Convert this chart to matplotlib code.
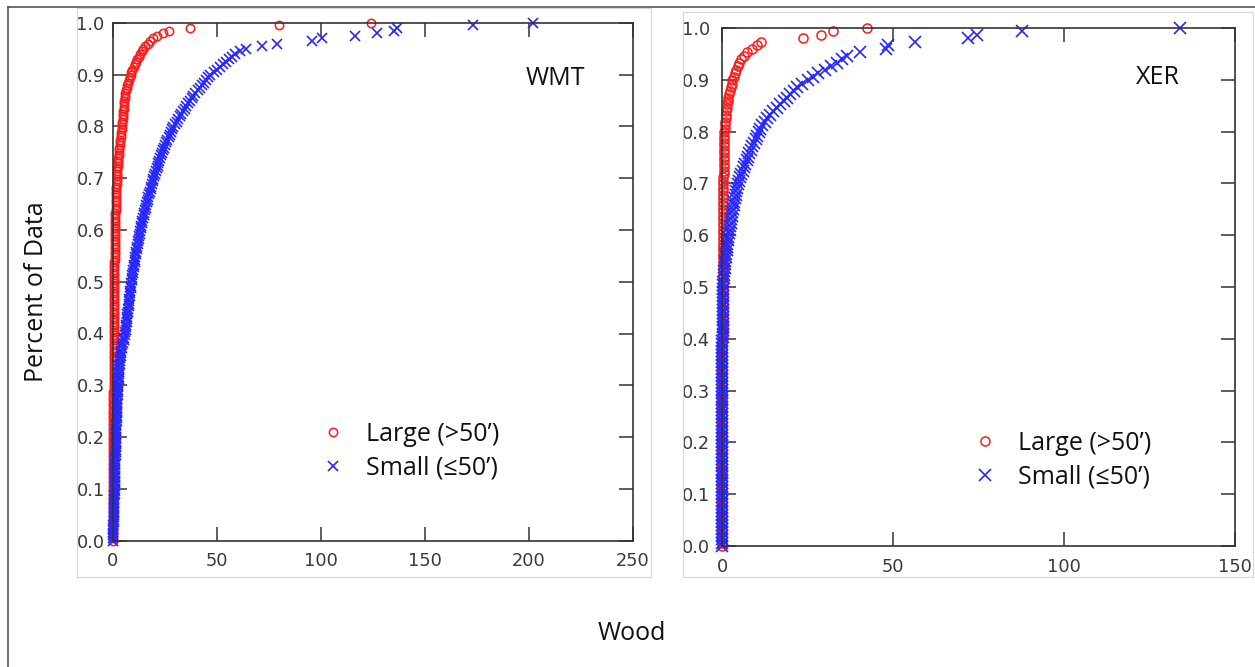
import numpy as np
import matplotlib
matplotlib.use("Agg")
import matplotlib.pyplot as plt
from matplotlib.lines import Line2D

# ---------------- data (sorted wood values, ECDF) ----------------
wmt_large = [
    0.0, 0.0, 0.0, 0.1, 0.1, 0.1, 0.1, 0.1, 0.1, 0.1,
    0.1, 0.1, 0.1, 0.1, 0.1, 0.1, 0.2, 0.2, 0.2, 0.2,
    0.2, 0.2, 0.2, 0.2, 0.2, 0.2, 0.2, 0.2, 0.2, 0.2,
    0.2, 0.2, 0.2, 0.2, 0.2, 0.2, 0.3, 0.3, 0.3, 0.3,
    0.3, 0.3, 0.3, 0.3, 0.3, 0.3, 0.3, 0.3, 0.3, 0.3,
    0.3, 0.3, 0.3, 0.3, 0.3, 0.3, 0.3, 0.3, 0.4, 0.4,
    0.4, 0.4, 0.4, 0.4, 0.4, 0.4, 0.4, 0.5, 0.5, 0.5,
    0.5, 0.5, 0.5, 0.5, 0.5, 0.5, 0.5, 0.5, 0.5, 0.5,
    0.5, 0.5, 0.5, 0.5, 0.6, 0.6, 0.6, 0.6, 0.6, 0.6,
    0.6, 0.6, 0.6, 0.6, 0.6, 0.6, 0.7, 0.7, 0.7, 0.7,
    0.7, 0.7, 0.7, 0.8, 0.8, 0.8, 0.8, 0.8, 0.9, 0.9,
    0.9, 0.9, 0.9, 1.0, 1.0, 1.0, 1.0, 1.1, 1.1, 1.1,
    1.1, 1.2, 1.2, 1.2, 1.3, 1.3, 1.3, 1.4, 1.4, 1.5,
    1.5, 1.6, 1.6, 1.7, 1.7, 1.8, 1.8, 1.9, 1.9, 2.0,
    2.0, 2.1, 2.2, 2.3, 2.4, 2.5, 2.6, 2.7, 2.8, 3.0,
    3.1, 3.2, 3.3, 3.5, 3.6, 3.8, 3.9, 4.1, 4.3, 4.5,
    4.6, 4.7, 4.8, 4.9, 5.0, 5.1, 5.2, 5.3, 5.4, 5.5,
    5.7, 5.9, 6.1, 6.4, 6.7, 7.0, 7.3, 7.7, 8.1, 8.6,
    9.0, 9.5, 10.1, 10.7, 11.3, 11.9, 12.5, 13.2, 13.9, 14.6,
    15.7, 16.8, 18.0, 19.5, 21.5, 24.0, 27.0, 37.0, 80.0, 124.0,
]
wmt_small = [
    0.0, 0.1, 0.1, 0.2, 0.2, 0.3, 0.3, 0.4, 0.4, 0.5,
    0.5, 0.6, 0.6, 0.7, 0.7, 0.7, 0.8, 0.8, 0.9, 0.9,
    0.9, 1.0, 1.0, 1.0, 1.1, 1.1, 1.1, 1.2, 1.2, 1.2,
    1.3, 1.3, 1.3, 1.4, 1.4, 1.4, 1.5, 1.5, 1.6, 1.6,
    1.7, 1.7, 1.7, 1.8, 1.8, 1.8, 1.9, 1.9, 2.0, 2.0,
    2.1, 2.1, 2.2, 2.2, 2.3, 2.3, 2.4, 2.4, 2.5, 2.5,
    2.6, 2.7, 2.8, 2.9, 3.0, 3.0, 3.1, 3.2, 3.3, 3.4,
    3.6, 3.8, 4.0, 4.2, 4.4, 4.7, 5.0, 5.3, 5.6, 5.9,
    6.0, 6.2, 6.4, 6.5, 6.7, 6.8, 7.0, 7.1, 7.3, 7.4,
    7.6, 7.7, 7.8, 8.0, 8.1, 8.3, 8.4, 8.6, 8.7, 8.9,
    9.1, 9.3, 9.5, 9.7, 9.9, 10.1, 10.3, 10.5, 10.7, 10.9,
    11.1, 11.3, 11.6, 11.8, 12.0, 12.2, 12.5, 12.7, 12.9, 13.1,
    13.4, 13.7, 14.0, 14.3, 14.6, 14.9, 15.2, 15.5, 15.8, 16.1,
    16.4, 16.8, 17.1, 17.5, 17.8, 18.2, 18.5, 18.9, 19.2, 19.6,
    20.0, 20.4, 20.8, 21.2, 21.6, 22.0, 22.4, 22.8, 23.2, 23.6,
    24.1, 24.7, 25.2, 25.8, 26.3, 26.9, 27.5, 28.0, 28.6, 29.2,
    29.9, 30.7, 31.4, 32.2, 33.0, 33.8, 34.6, 35.4, 36.2, 37.0,
    37.9, 38.8, 39.8, 40.8, 41.8, 42.8, 43.8, 44.8, 45.9, 47.0,
    48.5, 50.0, 51.5, 53.0, 54.5, 56.0, 57.5, 59.0, 61.0, 64.0,
    72.0, 79.0, 96.0, 100.5, 116.5, 127.0, 135.0, 136.6, 173.0, 202.0,
]
xer_large = [
    0.0, 0.0, 0.0, 0.0, 0.0, 0.0, 0.0, 0.0, 0.0, 0.0,
    0.0, 0.0, 0.0, 0.0, 0.0, 0.0, 0.0, 0.0, 0.0, 0.0,
    0.0, 0.0, 0.0, 0.0, 0.0, 0.1, 0.1, 0.1, 0.1, 0.1,
    0.1, 0.1, 0.1, 0.1, 0.1, 0.1, 0.1, 0.1, 0.1, 0.1,
    0.1, 0.1, 0.1, 0.1, 0.1, 0.1, 0.1, 0.1, 0.1, 0.1,
    0.1, 0.1, 0.1, 0.1, 0.1, 0.1, 0.1, 0.1, 0.1, 0.1,
    0.2, 0.2, 0.2, 0.2, 0.2, 0.2, 0.2, 0.2, 0.2, 0.2,
    0.2, 0.2, 0.2, 0.2, 0.2, 0.2, 0.2, 0.2, 0.2, 0.2,
    0.2, 0.2, 0.2, 0.2, 0.2, 0.2, 0.2, 0.2, 0.2, 0.2,
    0.2, 0.2, 0.2, 0.3, 0.3, 0.3, 0.3, 0.3, 0.3, 0.4,
    0.4, 0.4, 0.4, 0.4, 0.4, 0.4, 0.4, 0.5, 0.5, 0.5,
    0.5, 0.5, 0.5, 0.6, 0.6, 0.6, 0.6, 0.7, 0.7, 0.7,
    0.8, 0.9, 1.0, 1.1, 1.2, 1.3, 1.4, 1.5, 1.7, 1.9,
    2.1, 2.3, 2.5, 2.8, 3.0, 3.4, 3.8, 4.2, 4.6, 5.0,
    5.6, 6.5, 7.4, 8.8, 10.2, 11.5, 23.8, 29.0, 32.5, 42.3,
]
xer_small = [
    0.0, 0.0, 0.0, 0.0, 0.0, 0.0, 0.0, 0.0, 0.0, 0.0,
    0.0, 0.0, 0.0, 0.0, 0.0, 0.0, 0.0, 0.0, 0.0, 0.0,
    0.0, 0.0, 0.0, 0.0, 0.0, 0.0, 0.0, 0.0, 0.0, 0.0,
    0.1, 0.1, 0.1, 0.1, 0.1, 0.1, 0.1, 0.1, 0.1, 0.1,
    0.1, 0.1, 0.1, 0.1, 0.1, 0.1, 0.1, 0.1, 0.1, 0.1,
    0.1, 0.1, 0.1, 0.1, 0.1, 0.1, 0.1, 0.1, 0.1, 0.1,
    0.2, 0.2, 0.2, 0.2, 0.2, 0.2, 0.2, 0.2, 0.2, 0.2,
    0.2, 0.2, 0.2, 0.2, 0.2, 0.3, 0.4, 0.5, 0.6, 0.7,
    0.8, 0.9, 1.0, 1.2, 1.3, 1.4, 1.5, 1.6, 1.7, 1.8,
    2.0, 2.2, 2.4, 2.5, 2.7, 2.8, 3.0, 3.2, 3.4, 3.6,
    3.8, 4.0, 4.2, 4.4, 4.6, 5.0, 5.3, 5.7, 6.0, 6.4,
    6.8, 7.2, 7.6, 8.0, 8.4, 8.9, 9.3, 9.8, 10.2, 10.7,
    11.2, 11.8, 12.5, 13.2, 14.0, 15.0, 16.0, 17.0, 18.0, 19.0,
    20.0, 21.0, 22.0, 23.5, 25.0, 26.5, 28.0, 30.0, 32.0, 33.6,
    35.0, 36.5, 40.4, 48.0, 48.5, 56.4, 72.0, 74.5, 87.6, 134.0,
]

panels = ["WMT", "XER"]
x_limits = [250, 150]
x_ticks = [[0, 50, 100, 150, 200, 250], [0, 50, 100, 150]]
y_ticks = [0.0, 0.1, 0.2, 0.3, 0.4, 0.5, 0.6, 0.7, 0.8, 0.9, 1.0]
legend_labels = ["Large (>50\u2019)", "Small (\u226450\u2019)"]
x_label = "Wood"
y_label = "Percent of Data"

# ---------------- figure ----------------
W, H = 1255, 667
fig = plt.figure(figsize=(W / 100, H / 100), dpi=100)
fig.patch.set_facecolor("white")

TXT = ["Open Sans", "DejaVu Sans"]

def fx(px):
    return px / W

def fy(py):
    return 1 - py / H

# outer border (top and left) and light panel frames
fig.add_artist(Line2D([fx(8), fx(8)], [fy(7), fy(667)], color="#555555", lw=1.2))
fig.add_artist(Line2D([fx(8), fx(1255)], [fy(7), fy(7)], color="#555555", lw=1.2))
for (x0, y0, x1, y1) in [(77, 8, 651, 577), (683, 12, 1253, 577)]:
    fig.add_artist(Line2D([fx(x0), fx(x1), fx(x1), fx(x0), fx(x0)],
                          [fy(y0), fy(y0), fy(y1), fy(y1), fy(y0)],
                          color="#d8d8d8", lw=0.8))

axes_px = [(112.7, 22.7, 632.7, 540.7), (722, 28, 1235, 546)]
data = [(wmt_large, wmt_small), (xer_large, xer_small)]
label_pos = [(0.851, 0.893), (0.85, 0.905)]
leg_pos = [(0.40, 0.173), (0.489, 0.166)]
ylab_pad = [5.8, 8.5]
xlab_pad = [8.0, 8.6]
msizes = [(6.0, 7.0), (6.5, 8.5)]

for k in range(2):
    x0, y0, x1, y1 = axes_px[k]
    ax = fig.add_axes([fx(x0), fy(y1), (x1 - x0) / W, (y1 - y0) / H])
    large, small = data[k]
    yl = np.arange(len(large)) / (len(large) - 1)
    ys = np.arange(len(small)) / (len(small) - 1)
    ms_l, ms_s = msizes[k]
    ax.plot(large, yl, linestyle="none", marker="o", ms=ms_l, mfc="none",
            mec="#ff1a1a", mew=1.1, clip_on=False, label=legend_labels[0])
    ax.plot(small, ys, linestyle="none", marker="x", ms=ms_s,
            mec="#2626ff", mew=1.2, clip_on=False, label=legend_labels[1])
    ax.set_xlim(0, x_limits[k])
    ax.set_ylim(0, 1)
    ax.set_xticks(x_ticks[k])
    ax.set_yticks(y_ticks)
    ax.set_yticklabels(["%.1f" % v for v in y_ticks])
    for s in ax.spines.values():
        s.set_color("#333333")
        s.set_linewidth(1.2)
    ax.tick_params(direction="in", length=10, width=1.1, color="#333333",
                   top=True, right=True, labelsize=12.8, labelcolor="#3a3a3a")
    ax.tick_params(axis="y", pad=ylab_pad[k])
    ax.tick_params(axis="x", pad=xlab_pad[k])
    ax.text(label_pos[k][0], label_pos[k][1], panels[k], transform=ax.transAxes,
            ha="center", va="center", fontsize=18, family=TXT, color="#111111")
    leg = ax.legend(loc="center left", bbox_to_anchor=leg_pos[k], frameon=False,
                    borderpad=0, borderaxespad=0, handlelength=1.0,
                    handletextpad=0.8, labelspacing=0.35,
                    prop={"family": TXT, "size": 18})
    for t in leg.get_texts():
        t.set_color("#111111")

fig.text(fx(37), fy(292), y_label, rotation=90, ha="center", va="center",
         fontsize=18, family=TXT, color="#111111")
fig.text(fx(632), fy(634), x_label, ha="center", va="center",
         fontsize=18, family=TXT, color="#111111")

fig.savefig("out.png", dpi=100, facecolor="white")
